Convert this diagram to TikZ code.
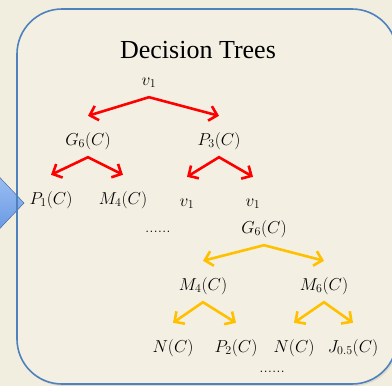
\documentclass[tikz,border=0pt]{standalone}
\usepackage{fontspec}
\newfontfamily\titlefont{Liberation Serif}
\usetikzlibrary{arrows.meta, positioning, shadows}
\definecolor{bgbeige}{RGB}{242,238,223}
\definecolor{panelfill}{RGB}{243,240,227}
\definecolor{panelblue}{RGB}{79,129,189}
\definecolor{treered}{RGB}{255,0,0}
\definecolor{treegold}{RGB}{255,192,0}
\definecolor{pointertop}{RGB}{165,198,245}
\definecolor{pointerbot}{RGB}{95,145,225}

\begin{document}
\begin{tikzpicture}[x=1pt, y=-1pt, >={Straight Barb[length=7.5pt,width=15pt]}]
		\tikzset{
			term/.style={inner sep=0pt, anchor=base, text height=29pt, text depth=12pt,
				font=\fontsize{17}{20}\selectfont},
			dotrow/.style={inner sep=0pt, anchor=base, font=\fontsize{17}{20}\selectfont},
			redlink/.style={draw=treered, line width=2.6pt, line join=miter, <->},
			goldlink/.style={draw=treegold, line width=2.6pt, line join=miter, <->},
			panel/.style={rounded corners=45pt},
		}
		\useasboundingbox (0,0) rectangle (392,386);
		\fill[bgbeige] (0,0) rectangle (392,386);

		%panel and pointer
		\fill[panel, panelfill, drop shadow={opacity=0.18, shadow xshift=1.5pt, shadow yshift=-2pt}]
			(17,9) rectangle (397,384);
		\path[fill, top color=pointertop, bottom color=pointerbot, draw=pointerbot!80!black, line width=0.4pt]
			(-12,165) -- (24,203) -- (-12,241) -- cycle;
		\draw[panel, panelblue, line width=1.6pt] (17,9) rectangle (397,384);

		%title
		\node (title) [anchor=base, font=\titlefont\fontsize{26}{30}\selectfont] at (198,58) {Decision Trees};

		%first tree
		\node (v1) [term] at (149,85) {$v_1$};
		\node (g6a) [term] at (88,145) {$G_6(C)$};
		\node (p3) [term] at (219,145) {$P_3(C)$};
		\node (p1) [term] at (51,204) {$P_1(C)$};
		\node (m4a) [term] at (123,204) {$M_4(C)$};
		\node (v1b) [term] at (187,206) {$v_1$};
		\node (v1c) [term] at (253,206) {$v_1$};
		\node (dotsa) [dotrow] at (158,232) {......};

		%second tree
		\node (g6b) [term] at (264,233) {$G_6(C)$};
		\node (m4b) [term] at (203,290) {$M_4(C)$};
		\node (m6) [term] at (324,290) {$M_6(C)$};
		\node (nc1) [term] at (173,352) {$N(C)$};
		\node (p2) [term] at (236,352) {$P_2(C)$};
		\node (nc2) [term] at (294,352) {$N(C)$};
		\node (j05) [term] at (353,352) {$J_{0.5}(C)$};
		\node (dotsb) [dotrow] at (272,372) {......};

		%links, one bent path per parent
		\draw[redlink] (g6a.north) -- (v1.south) -- (p3.north);
		\draw[redlink] (p1.north) -- (g6a.south) -- (m4a.north);
		\draw[redlink] (v1b.north) -- (p3.south) -- (v1c.north);
		\draw[goldlink] (m4b.north) -- (g6b.south) -- (m6.north);
		\draw[goldlink] (nc1.north) -- (m4b.south) -- (p2.north);
		\draw[goldlink] (nc2.north) -- (m6.south) -- (j05.north);
\end{tikzpicture}
\end{document}
